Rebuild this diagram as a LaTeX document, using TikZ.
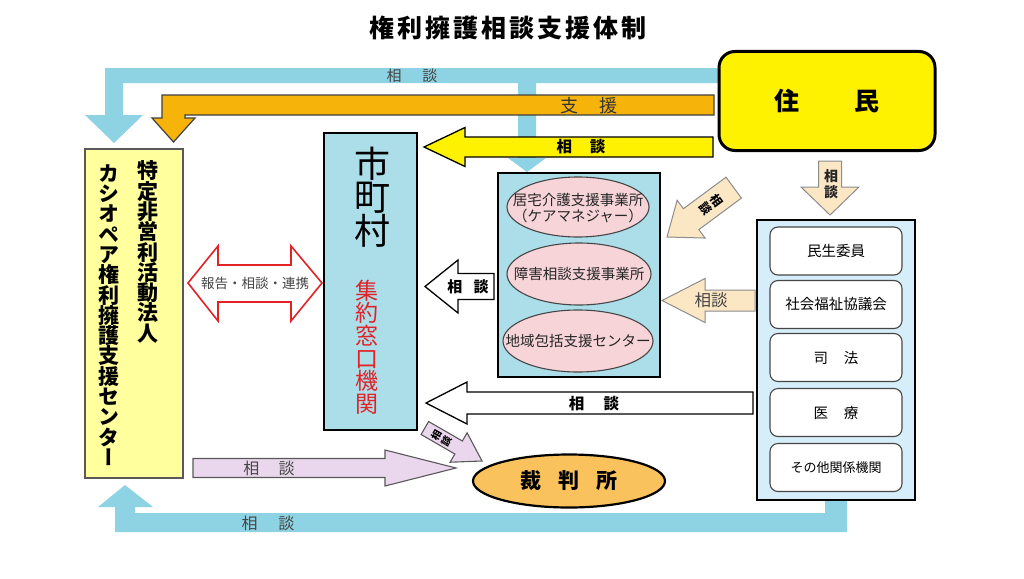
\documentclass[tikz,border=0pt]{standalone}
\usepackage{fontspec}
\setmainfont{Noto Sans CJK JP}
\newfontfamily\vjp[RawFeature=+vert]{Noto Sans CJK JP}
\usetikzlibrary{shapes.geometric}
\definecolor{bandblue}{RGB}{141,211,227}
\definecolor{orangeA}{RGB}{246,180,10}
\definecolor{boxblue}{RGB}{172,222,233}
\definecolor{rboxblue}{RGB}{214,238,249}
\definecolor{lyellow}{RGB}{255,255,158}
\definecolor{pinkell}{RGB}{246,212,216}
\definecolor{beige}{RGB}{252,231,196}
\definecolor{lilac}{RGB}{234,215,237}
\definecolor{courtor}{RGB}{249,194,92}
\definecolor{redA}{RGB}{225,35,40}
\definecolor{txtgray}{RGB}{70,70,70}
\newcommand{\barr}[7]{\path[#1,shift={(#2)},rotate=#3] (0,0) -- (-#5,#6) -- (-#5,#7) -- (-#4,#7) -- (-#4,-#7) -- (-#5,-#7) -- (-#5,-#6) -- cycle;}
\newcommand{\fs}[2]{\fontsize{#1}{#2}\selectfont\lineskiplimit=-50pt\lineskip=0pt}
\begin{document}
\begin{tikzpicture}[x=1pt,y=-1pt,
  lbl/.style={inner sep=0,text=txtgray},
  bigbox/.style={draw=black,line width=2.5pt},
  ell/.style={draw=txtgray,line width=1.1pt,fill=pinkell},
  etxt/.style={inner sep=0,align=center,text=black!85,font=\fs{14.5}{16}},
  ibox/.style={rounded corners=8pt,draw=txtgray,line width=1.1pt,fill=white,minimum width=132pt,minimum height=48pt,inner sep=0,font=\fs{14.5}{16}},
  blockY/.style={fill=yellow,draw=black,line width=1.3pt},
  blockW/.style={fill=white,draw=black,line width=1.3pt},
  blockB/.style={fill=beige,draw=black!45,line width=1pt},
  blockP/.style={fill=lilac,draw=black!65,line width=1.1pt},
  ]
\useasboundingbox (0,0) rectangle (1024,578);
\fill[white] (0,0) rectangle (1024,578);
% title
\node[inner sep=0,font=\fs{25}{25}\bfseries\addfontfeature{LetterSpace=12}] (title) at (508,28) {権利擁護相談支援体制};
% blue top band with branch
\fill[bandblue] (718,68) -- (105,68) -- (105,115) -- (85,115) -- (114,143) -- (143,115) -- (123,115) -- (123,83) -- (518,83) -- (518,158) -- (508,158) -- (527,172) -- (546,158) -- (536,158) -- (536,83) -- (718,83) -- cycle;
\node[lbl,font=\fs{15}{15}] (lblA) at (412,76) {相\hspace{1.4em}談};
% blue bottom band
\fill[bandblue] (847,499) -- (847,532) -- (115,532) -- (115,507) -- (98,507) -- (125,485) -- (153,507) -- (135,507) -- (135,513) -- (825,513) -- (825,499) -- cycle;
\node[lbl,font=\fs{16}{16}] (lblB) at (268,523) {相\hspace{1.3em}談};
% orange arrow
\path[fill=orangeA,draw=black!75,line width=1.2pt] (714,95) -- (162,95) -- (162,118) -- (152,118) -- (173.5,142) -- (195,118) -- (185,118) -- (185,115) -- (714,115) -- cycle;
\node[lbl,text=black!80,font=\fs{18}{18}] (lblC) at (589,106) {支\hspace{1.2em}援};
% yellow arrow
\barr{blockY}{424,147}{180}{289}{41}{19.5}{10}
\node[inner sep=0,font=\fs{15.5}{16}\bfseries] (lblD) at (581,147) {相\hspace{1.15em}談};
% residents
\node[draw=black,line width=3pt,fill=yellow,rounded corners=16pt,minimum width=216pt,minimum height=99pt,inner sep=0,font=\fs{25}{25}\bfseries] (jumin) at (827,101) {住\hspace{2.2em}民};
% left box
\node[draw=black!65,line width=2pt,fill=lyellow,minimum width=98pt,minimum height=329pt,inner sep=0] (center) at (134,313) {};
\node[inner sep=0,align=center,font=\vjp\fs{21}{20.3}\bfseries] (npoA) at (148,252) {特\\定\\非\\営\\利\\活\\動\\法\\人};
\node[inner sep=0,align=center,font=\vjp\fs{21}{20.3}\bfseries] (npoB) at (109,315) {カ\\シ\\オ\\ペ\\ア\\権\\利\\擁\\護\\支\\援\\セ\\ン\\タ\\ー};
% red double arrow
\path[fill=white,draw=redA,line width=1.6pt] (188,283) -- (218,246) -- (218,265) -- (291,265) -- (291,246) -- (322,283) -- (291,321) -- (291,302) -- (218,302) -- (218,321) -- cycle;
\node[lbl,font=\fs{13.5}{14}] (lblE) at (255,283) {報告・相談・連携};
% municipality
\node[bigbox,fill=boxblue,minimum width=93pt,minimum height=297pt,inner sep=0] (city) at (370.5,281.5) {};
\node[inner sep=0,align=center,font=\fs{36}{33.5}] (cityA) at (372,197) {市\\町\\村};
\node[inner sep=0,align=center,text=redA,font=\fs{23}{22.6}] (cityB) at (367,347) {集\\約\\窓\\口\\機\\関};
% centre box
\node[bigbox,fill=boxblue,minimum width=162pt,minimum height=204pt,inner sep=0] (cbox) at (579,275) {};
\path[ell] (578,207) ellipse [x radius=71, y radius=30];
\node[etxt] (e1) at (578,208) {居宅介護支援事業所\\（ケアマネジャー）};
\path[ell] (579,274) ellipse [x radius=72, y radius=31];
\node[etxt] (e2) at (579,274) {障害相談支援事業所};
\path[ell] (578,341) ellipse [x radius=75, y radius=31];
\node[etxt] (e3) at (578,341) {地域包括支援センター};
% white arrows
\barr{blockW}{425,286.5}{180}{69}{33}{26.5}{13}
\node[inner sep=0,font=\fs{15}{15}\bfseries] (lblF) at (468,287) {相\hspace{0.75em}談};
\barr{blockW}{426,403}{180}{327}{41}{21}{11}
\node[inner sep=0,font=\fs{15.5}{16}\bfseries] (lblG) at (594,404) {相\hspace{1.25em}談};
% right box
\node[bigbox,fill=rboxblue,minimum width=158pt,minimum height=280pt,inner sep=0] (rbox) at (836,360) {};
\node[ibox] (r1) at (836,251) {民生委員};
\node[ibox] (r2) at (836,304.5) {社会福祉協議会};
\node[ibox] (r3) at (836,357.5) {司\hspace{1.1em}法};
\node[ibox] (r4) at (836,412.5) {医\hspace{1.1em}療};
\node[ibox,font=\fs{13}{14}] (r5) at (836,467.5) {その他関係機関};
% beige arrows
\barr{blockB}{662,300.5}{180}{93}{43}{22}{10.5}
\node[lbl,font=\fs{16.5}{17}] (lblH) at (711,300) {相談};
\barr{blockB}{830,215}{-90}{54}{28}{29}{11.5}
\node[inner sep=0,align=center,text=black!85,font=\fs{14}{16}\bfseries] (lblI) at (831,184) {相\\談};
\barr{blockB}{667,237}{216.5}{83}{30}{23.5}{13}
\node[inner sep=0,align=center,rotate=-53.5,font=\fs{12}{13.5}\bfseries] (lblJ) at (711,205) {相\\談};
% court
\node[ellipse,draw=black,line width=2.2pt,fill=courtor,minimum width=192pt,minimum height=53pt,inner sep=0,font=\fs{21}{21}\bfseries] (court) at (569,481) {裁\hspace{0.8em}判\hspace{0.8em}所};
% lilac arrows
\barr{blockP}{456,468}{0}{263}{71}{18}{9.5}
\node[lbl,font=\fs{16}{16}] (lblK) at (269,468) {相\hspace{1.2em}談};
\barr{blockP}{482,461}{-30}{66}{27}{17}{7.5}
\node[inner sep=0,align=center,rotate=60,font=\fs{10}{11.5}\bfseries] (lblL) at (442,438) {相\\談};
\end{tikzpicture}
\end{document}
